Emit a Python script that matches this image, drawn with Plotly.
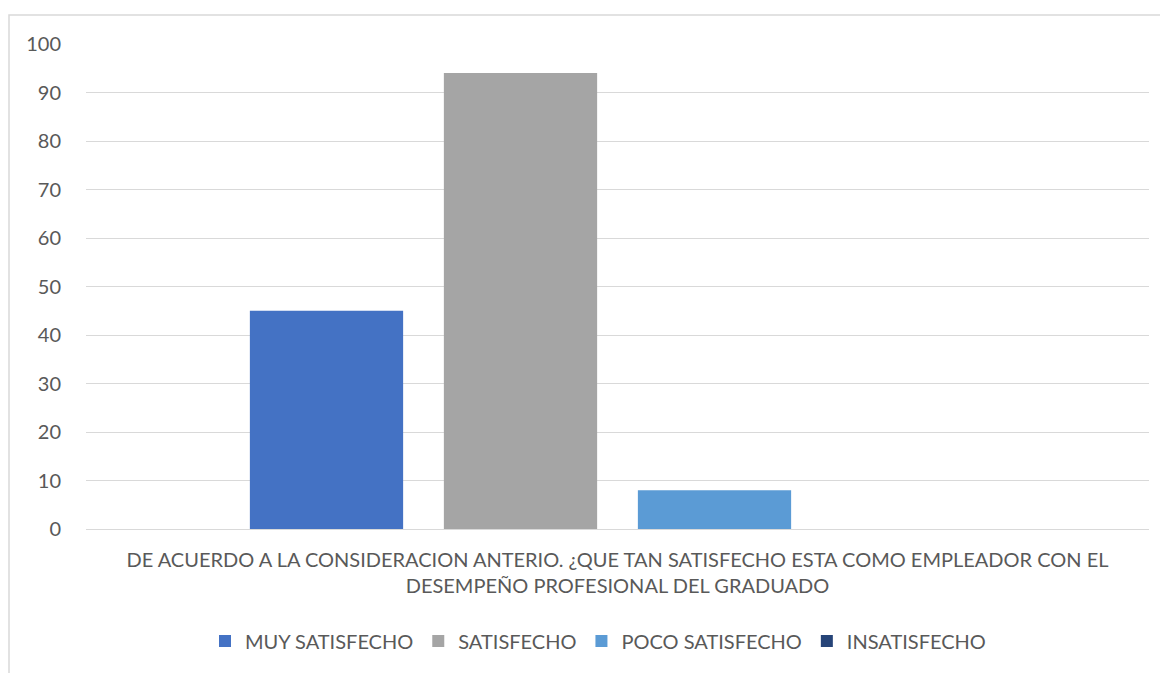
import plotly.graph_objects as go

category = ["DE ACUERDO A LA CONSIDERACION ANTERIO. ¿QUE TAN SATISFECHO ESTA COMO EMPLEADOR CON EL<br>DESEMPEÑO PROFESIONAL DEL GRADUADO"]
series_names = ["MUY SATISFECHO", "SATISFECHO", "POCO SATISFECHO", "INSATISFECHO"]
series_values = [[45], [94], [8], [0]]
series_colors = ["#4472C4", "#A5A5A5", "#5B9BD5", "#264478"]
y_ticks = [0, 10, 20, 30, 40, 50, 60, 70, 80, 90, 100]

FONT = "Lato"
TXT = "#595959"
FS = 20

# page has an 8px body margin; figure sized to fill the rest of the window
W, H = 1160, 665
L, R, T, B = 78, 19, 36, 144
PW, PH = W - L - R, H - T - B

fig = go.Figure()
for name, vals, col in zip(series_names, series_values, series_colors):
    fig.add_trace(go.Bar(x=category, y=vals, name=name, marker=dict(color=col, line=dict(width=0))))

fig.update_layout(
    width=W, height=H,
    margin=dict(l=L, r=R, t=T, b=B, autoexpand=False),
    paper_bgcolor="white", plot_bgcolor="white",
    barmode="group", bargap=0.27, bargroupgap=0.21,
    font=dict(family=FONT, size=FS, color=TXT),
    showlegend=True,
    legend=dict(orientation="h", x=(590 - L) / PW, xanchor="center", y=-112 / PH, yanchor="middle",
                font=dict(family=FONT, size=FS, color=TXT), itemwidth=30),
    xaxis=dict(range=[-0.5, 0.5], showgrid=False, showline=False, ticks="", zeroline=False,
               tickfont=dict(family=FONT, size=FS, color=TXT), ticklabelstandoff=17),
    yaxis=dict(range=[0, 100], tickvals=y_ticks, showgrid=True, gridcolor="#D9D9D9", gridwidth=1,
               zeroline=True, zerolinecolor="#D9D9D9", zerolinewidth=1, showline=False, ticks="",
               tickfont=dict(family=FONT, size=FS, color=TXT), ticklabelstandoff=24),
    shapes=[dict(type="rect", xref="paper", yref="paper",
                 x0=(1 - L) / PW, x1=(W + 20 - L) / PW,
                 y0=-(B + 20) / PH, y1=1 + (T - 7) / PH,
                 line=dict(color="#D9D9D9", width=1.5), fillcolor="rgba(0,0,0,0)", layer="below")],
)
fig.write_html("out.html")
